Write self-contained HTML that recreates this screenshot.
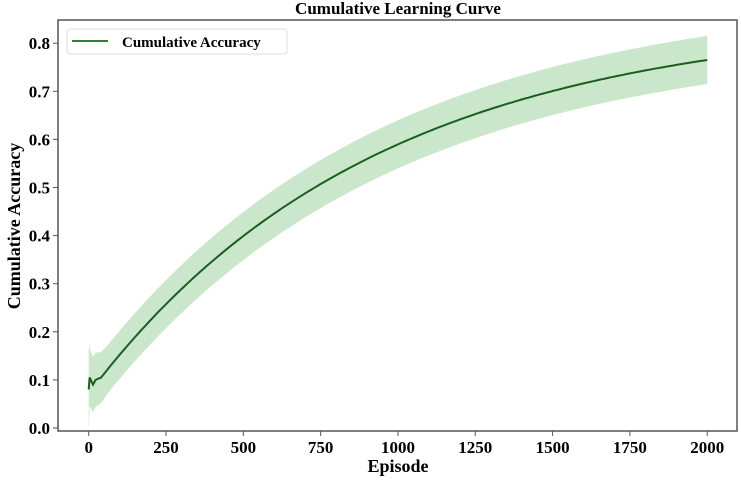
<!DOCTYPE html>
<html><head><meta charset="utf-8"><style>
body{margin:0;background:#fff;width:741px;height:477px;overflow:hidden;font-family:"Liberation Serif",serif;}
</style></head><body>
<svg id="s" width="741" height="477" xmlns="http://www.w3.org/2000/svg" font-family="Liberation Serif, serif" font-weight="bold">
<text x="398" y="14" text-anchor="middle" font-size="17">Cumulative Learning Curve</text>
<g id="plot"></g>
<rect x="58" y="20" width="679" height="411" fill="none" stroke="#555" stroke-width="1.5"/>
<g font-size="17" text-anchor="end" id="yt"></g>
<g font-size="17" text-anchor="middle" id="xt"></g>
<text x="398" y="472" text-anchor="middle" font-size="18">Episode</text>
<text transform="translate(20,226) rotate(-90)" text-anchor="middle" font-size="18">Cumulative Accuracy</text>
<rect x="67" y="29" width="220" height="25" rx="3" fill="#fff" stroke="#ddd"/>
<line x1="72" y1="41" x2="108" y2="41" stroke="#2e7d32" stroke-width="2"/>
<text x="122" y="47" font-size="15">Cumulative Accuracy</text>
</svg>
<script>
var X=function(v){return 88.7+v*0.30925},Y=function(v){return 428-v*481};
function f(x){if(x<40){var k=[[0,0.08],[3,0.105],[8,0.098],[14,0.09],[22,0.1],[40,0.105]];for(var i=1;i<k.length;i++)if(x<=k[i][0]){var a=k[i-1],b=k[i];return a[1]+(b[1]-a[1])*(x-a[0])/(b[0]-a[0]);}}
return 0.855-0.75*Math.exp(-(x-40)/924);}
function w(x){return x<60?0.06-0.01*x/60:0.05;}
var up=[],lo=[],m=[];
for(var x=0;x<=2000;x+=(x<40?1:10)){up.push(X(x).toFixed(1)+","+Y(f(x)+w(x)+(x<3?0.02:0)).toFixed(1));lo.push(X(x).toFixed(1)+","+Y(f(x)-w(x)-(x<3?0.02:0)).toFixed(1));m.push(X(x).toFixed(1)+","+Y(f(x)).toFixed(1));}
var g=document.getElementById("plot");
g.innerHTML='<polygon points="'+up.join(" ")+" "+lo.reverse().join(" ")+'" fill="#2e9e2e" fill-opacity="0.25"/><polyline points="'+m.join(" ")+'" fill="none" stroke="#1b5e20" stroke-width="2"/>';
var yt="";for(var i=0;i<=8;i++){var y=Y(i/10);yt+='<line x1="53" x2="58" y1="'+y+'" y2="'+y+'" stroke="#555"/><text x="50" y="'+(y+6)+'">'+(i/10).toFixed(1)+'</text>';}
document.getElementById("yt").innerHTML=yt;
var xt="";for(var v=0;v<=2000;v+=250){var x=X(v);xt+='<line x1="'+x+'" x2="'+x+'" y1="431" y2="436" stroke="#555"/><text x="'+x+'" y="453">'+v+'</text>';}
document.getElementById("xt").innerHTML=xt;
</script>
</body></html>
